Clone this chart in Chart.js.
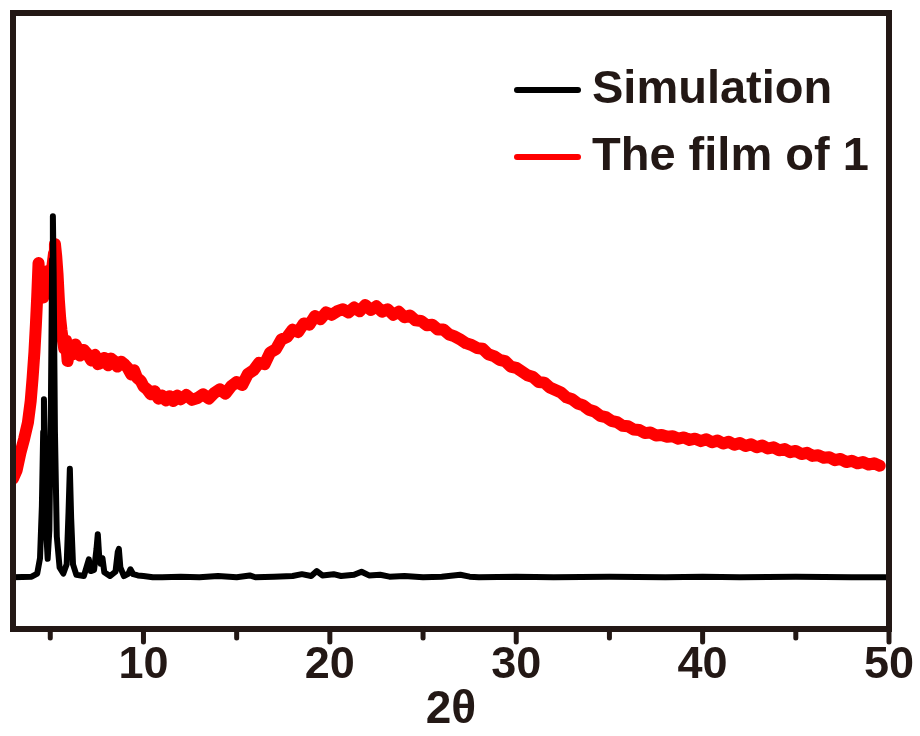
<!DOCTYPE html>
<html>
<head>
<meta charset="utf-8">
<script src="https://cdn.jsdelivr.net/npm/chart.js@4.4.1/dist/chart.umd.min.js"></script>
<style>
  html, body { margin: 0; padding: 0; background: #ffffff; }
  #wrap { width: 920px; height: 736px; }
</style>
</head>
<body>
<div id="wrap"><canvas id="c" width="920" height="736"></canvas></div>
<script>
// ---- data ----
const seriesNames = ["Simulation", "The film of 1"];
const majorTicks = [10, 20, 30, 40, 50];
const minorTicks = [5, 15, 25, 35, 45];
const xTitle = "2θ";

const simX = [3.0, 4.0, 4.3, 4.45, 4.55, 4.62, 4.66, 4.7, 4.78, 4.86, 4.95, 5.03, 5.1, 5.14, 5.18, 5.25, 5.35, 5.5, 5.7, 5.88, 5.98, 6.05, 6.12, 6.22, 6.4, 6.8, 6.97, 7.07, 7.17, 7.35, 7.48, 7.55, 7.62, 7.7, 7.8, 7.9, 8.2, 8.5, 8.62, 8.68, 8.76, 8.95, 9.2, 9.3, 9.45, 9.7, 10.0, 10.5, 11.0, 12.0, 13.0, 14.0, 15.0, 15.7, 16.0, 17.0, 18.0, 18.5, 19.0, 19.3, 19.6, 20.2, 20.6, 21.3, 21.7, 22.1, 22.7, 23.2, 24.0, 25.0, 26.0, 27.0, 27.5, 28.0, 30.0, 32.0, 35.0, 38.0, 40.0, 42.0, 45.0, 48.0, 50.0];
const simY = [8.4, 8.5, 9.0, 11.5, 20, 32, 37.3, 30, 16, 11.4, 16, 35, 60, 67.0, 58, 32, 15, 10, 9, 10.5, 19, 26, 18, 10.5, 8.8, 8.6, 10.3, 11.3, 9.4, 9.6, 13, 15.4, 12, 10.6, 11.5, 9.2, 8.6, 9.3, 12.5, 13, 10, 8.6, 9.0, 9.7, 8.9, 8.7, 8.6, 8.4, 8.4, 8.5, 8.4, 8.6, 8.4, 8.7, 8.4, 8.5, 8.6, 8.9, 8.6, 9.4, 8.7, 8.9, 8.6, 8.8, 9.3, 8.7, 8.8, 8.5, 8.6, 8.4, 8.5, 8.8, 8.5, 8.4, 8.5, 8.4, 8.5, 8.4, 8.5, 8.4, 8.5, 8.4, 8.4];

const filmX = [3.0, 3.2, 3.4, 3.6, 3.8, 3.95, 4.05, 4.15, 4.23, 4.3, 4.37, 4.45, 4.54, 4.62, 4.68, 4.76, 4.86, 4.95, 5.03, 5.12, 5.2, 5.25, 5.32, 5.39, 5.46, 5.53, 5.6, 5.66, 5.75, 5.85, 5.93, 6.05, 6.2, 6.35, 6.46, 6.6, 6.8, 7.0, 7.2, 7.4, 7.55, 7.71, 7.9, 8.1, 8.25, 8.42, 8.6, 8.8, 9.0, 9.15, 9.35, 9.5, 9.65, 9.85, 10.0, 10.2, 10.39, 10.6, 10.8, 11.0, 11.2, 11.4, 11.6, 11.8, 12.0, 12.3, 12.6, 12.9, 13.2, 13.5, 13.8, 14.1, 14.4, 14.7, 15.0, 15.3, 15.6, 15.9, 16.2, 16.5, 16.8, 17.1, 17.4, 17.7, 18.0, 18.3, 18.6, 18.9, 19.2, 19.5, 19.8, 20.1, 20.4, 20.7, 21.0, 21.3, 21.6, 21.9, 22.2, 22.5, 22.8, 23.1, 23.4, 23.7, 24.0, 24.3, 24.6, 24.9, 25.2, 25.5, 25.8, 26.1, 26.4, 26.7, 27.0, 27.3, 27.6, 27.9, 28.2, 28.5, 28.8, 29.1, 29.4, 29.7, 30.0, 30.3, 30.6, 30.9, 31.2, 31.5, 31.8, 32.1, 32.4, 32.7, 33.0, 33.3, 33.6, 33.9, 34.2, 34.5, 34.8, 35.1, 35.4, 35.7, 36.0, 36.3, 36.6, 36.9, 37.2, 37.5, 37.8, 38.1, 38.4, 38.7, 39.0, 39.3, 39.6, 39.9, 40.2, 40.5, 40.8, 41.1, 41.4, 41.7, 42.0, 42.3, 42.6, 42.9, 43.2, 43.5, 43.8, 44.1, 44.4, 44.7, 45.0, 45.3, 45.6, 45.9, 46.2, 46.5, 46.8, 47.1, 47.4, 47.7, 48.0, 48.3, 48.6, 48.9, 49.2, 49.5];
const filmY = [24.4, 25.8, 28.6, 30.9, 33.5, 37.0, 40.7, 45.0, 49.5, 54.0, 59.4, 55.5, 57.0, 53.8, 54.4, 57.2, 58.1, 56.4, 57.3, 59.0, 61.0, 62.5, 60.5, 57.6, 53.5, 50.5, 48.5, 47.2, 45.5, 46.8, 43.5, 45.9, 44.6, 46.2, 45.6, 44.4, 45.3, 44.6, 43.6, 44.5, 43.0, 43.2, 44.0, 42.8, 43.9, 43.5, 42.6, 43.4, 42.9, 42.4, 41.3, 42.0, 40.8, 40.3, 39.4, 38.9, 38.1, 38.6, 37.4, 37.9, 37.1, 37.8, 37.0, 37.9, 37.3, 38.0, 37.2, 37.5, 38.1, 37.4, 38.3, 38.9, 38.2, 39.4, 40.1, 39.6, 41.4, 42.0, 43.2, 43.0, 44.9, 45.4, 47.0, 47.4, 48.6, 48.2, 49.6, 49.4, 50.8, 50.3, 51.4, 51.0, 51.6, 51.9, 51.4, 52.2, 51.6, 52.6, 51.8, 52.4, 51.5, 51.9, 51.0, 51.5, 50.6, 50.9, 50.1, 50.0, 49.3, 49.4, 48.6, 48.6, 47.8, 47.5, 47.0, 46.4, 46.1, 45.6, 45.5, 44.6, 44.3, 43.7, 43.5, 42.6, 42.4, 41.8, 41.2, 40.9, 40.1, 40.0, 39.2, 38.8, 38.4, 37.6, 37.3, 36.6, 36.3, 35.6, 35.3, 34.6, 34.4, 33.8, 33.6, 33.0, 32.9, 32.4, 32.3, 31.8, 31.9, 31.4, 31.5, 31.2, 31.3, 30.9, 31.1, 30.7, 30.9, 30.5, 30.8, 30.3, 30.6, 30.1, 30.4, 29.9, 30.2, 29.7, 30.0, 29.5, 29.8, 29.3, 29.5, 29.0, 29.2, 28.7, 28.9, 28.4, 28.6, 28.1, 28.2, 27.8, 27.9, 27.4, 27.6, 27.1, 27.3, 26.9, 27.1, 26.7, 26.9, 26.5];

// ---- chart ----
const INK = '#231815';
const FONT = "'Liberation Sans', Arial, sans-serif";

const simPts = simX.map((x, i) => ({ x: x, y: simY[i] }));
const filmPts = filmX.map((x, i) => ({ x: x, y: filmY[i] }));

const framePlugin = {
  id: 'frame',
  afterDatasetsDraw(chart) {
    const ctx = chart.ctx;
    const a = chart.chartArea;
    const xs = chart.scales.x;
    ctx.save();
    ctx.strokeStyle = INK;
    ctx.lineWidth = 6;
    ctx.lineJoin = 'miter';
    ctx.strokeRect(a.left, a.top, a.right - a.left, a.bottom - a.top);
    ctx.lineWidth = 5;
    ctx.lineCap = 'round';
    majorTicks.forEach(v => {
      const px = xs.getPixelForValue(v);
      ctx.beginPath(); ctx.moveTo(px, a.bottom); ctx.lineTo(px, a.bottom + 13); ctx.stroke();
    });
    minorTicks.forEach(v => {
      const px = xs.getPixelForValue(v);
      ctx.beginPath(); ctx.moveTo(px, a.bottom); ctx.lineTo(px, a.bottom + 9); ctx.stroke();
    });
    // legend
    const rows = [{ y: 90 }, { y: 157 }];
    chart.data.datasets.forEach((ds, i) => {
      const ly = a.top + rows[i].y - 13;
      ctx.strokeStyle = ds.borderColor;
      ctx.lineWidth = 6;
      ctx.lineCap = 'round';
      ctx.beginPath(); ctx.moveTo(a.right - 372, ly); ctx.lineTo(a.right - 311, ly); ctx.stroke();
      ctx.fillStyle = INK;
      ctx.font = "bold 47px " + FONT;
      ctx.textAlign = 'left';
      ctx.textBaseline = 'alphabetic';
      ctx.fillText(ds.label, a.right - 297, ly + 13);
    });
    ctx.restore();
  }
};

new Chart(document.getElementById('c'), {
  type: 'line',
  data: {
    datasets: [
      { label: seriesNames[0], data: simPts, borderColor: '#000000', borderWidth: 6, pointRadius: 0, tension: 0, borderJoinStyle: 'round', borderCapStyle: 'round' },
      { label: seriesNames[1], data: filmPts, borderColor: '#ff0000', borderWidth: 12, pointRadius: 0, tension: 0, borderJoinStyle: 'round', borderCapStyle: 'round' }
    ]
  },
  options: {
    responsive: false,
    animation: false,
    devicePixelRatio: 1,
    layout: { padding: { left: 13, top: 13, right: 31, bottom: 0 } },
    plugins: { legend: { display: false }, tooltip: { enabled: false } },
    scales: {
      x: {
        type: 'linear',
        position: 'bottom',
        min: 3,
        max: 50,
        afterBuildTicks: (s) => { s.ticks = majorTicks.map(v => ({ value: v })); },
        afterFit: (s) => { s.height = 107; },
        border: { display: false },
        grid: { display: true, drawOnChartArea: false, drawTicks: true, tickLength: 14, tickColor: 'rgba(0,0,0,0)' },
        ticks: {
          autoSkip: false,
          maxRotation: 0,
          padding: 0,
          color: INK,
          font: { family: FONT, size: 45, weight: 'bold', lineHeight: 1 },
          callback: (v) => String(v)
        },
        title: {
          display: true,
          text: xTitle,
          color: INK,
          padding: { top: 0, bottom: 3 },
          font: { family: FONT, size: 46, weight: 'bold', lineHeight: 1 }
        }
      },
      y: {
        display: false,
        min: 0,
        max: 100
      }
    }
  },
  plugins: [framePlugin]
});
</script>
</body>
</html>
